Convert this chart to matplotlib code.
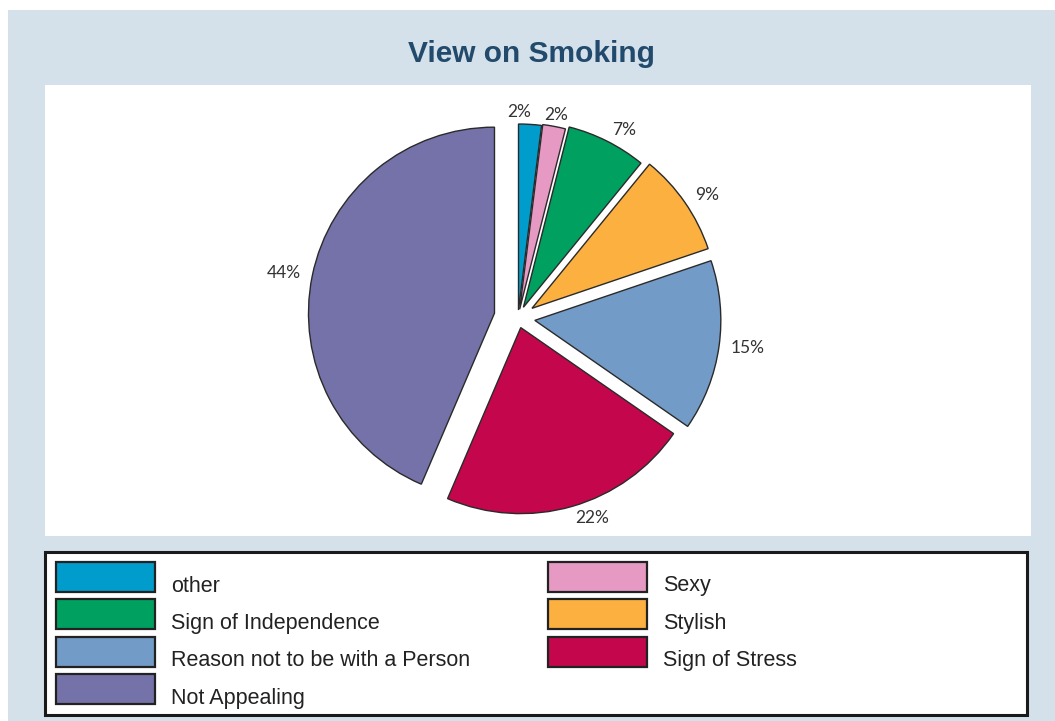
import matplotlib
matplotlib.use("Agg")
import matplotlib.pyplot as plt
from matplotlib.patches import Rectangle

# Survey answers, clockwise from 12 o'clock
categories = ["other", "Sexy", "Sign of Independence", "Stylish",
              "Reason not to be with a Person", "Sign of Stress", "Not Appealing"]
shares = [2, 2, 7, 9, 15, 22, 44]
colors = ["#009ccc", "#e699c2", "#00a060", "#fbb040",
          "#739bc7", "#c4074c", "#7472a8"]
title = "View on Smoking"

W, H = 1055, 721
fig = plt.figure(figsize=(W / 100, H / 100), dpi=100)
fig.patch.set_facecolor("white")

# Background panels in pixel coordinates (y downwards)
bg = fig.add_axes([0, 0, 1, 1])
bg.set_xlim(0, W)
bg.set_ylim(H, 0)
bg.axis("off")
bg.add_patch(Rectangle((8, 10), W - 8, H - 10, fc="#d4e1ea", ec="none"))
bg.add_patch(Rectangle((45, 85), 986, 451, fc="white", ec="none"))
bg.text(531, 61.5, title, ha="center", va="baseline", fontsize=21.5,
        fontweight="bold", color="#224a6c", family=["Liberation Sans", "DejaVu Sans"])

# Legend box, two entries per row
bg.add_patch(Rectangle((45, 552), 982, 163, fc="white", ec="#1a1a1a", lw=2.2))
col_x = [56, 548]
for i, (name, c) in enumerate(zip(categories, colors)):
    row, col = divmod(i, 2)
    top = 562 + 37.4 * row
    bg.add_patch(Rectangle((col_x[col], top), 99, 30, fc=c, ec="#222222", lw=1.6))
    bg.text(col_x[col] + 115, top + 24, name, ha="left", va="center",
            fontsize=15.5, color="#222222", family=["Liberation Sans", "DejaVu Sans"])

# Pie in pixel units, centred at the origin
cx, cy, r = 518, 318, 186
ax = fig.add_axes([0, 0, 1, 1])
ax.patch.set_alpha(0)
explode = [8, 9, 12, 17, 17, 10, 24]
label_align = ["right", "center", "left", "left", "left", "left", "right"]
wedges, texts = ax.pie(
    shares, colors=colors, explode=explode, radius=r,
    startangle=90, counterclock=False,
    labels=[f"{v}%" for v in shares], labeldistance=1.065,
    wedgeprops=dict(edgecolor="#2a2a2a", linewidth=1.0),
    textprops=dict(fontsize=12.5, color="#333333", family=["Lato", "DejaVu Sans"]),
)
for t, ha in zip(texts, label_align):
    t.set_ha(ha)
ax.set_xlim(-cx, W - cx)
ax.set_ylim(-(H - cy), cy)
ax.set_aspect("equal")
ax.axis("off")

fig.savefig("out.png", dpi=100)
